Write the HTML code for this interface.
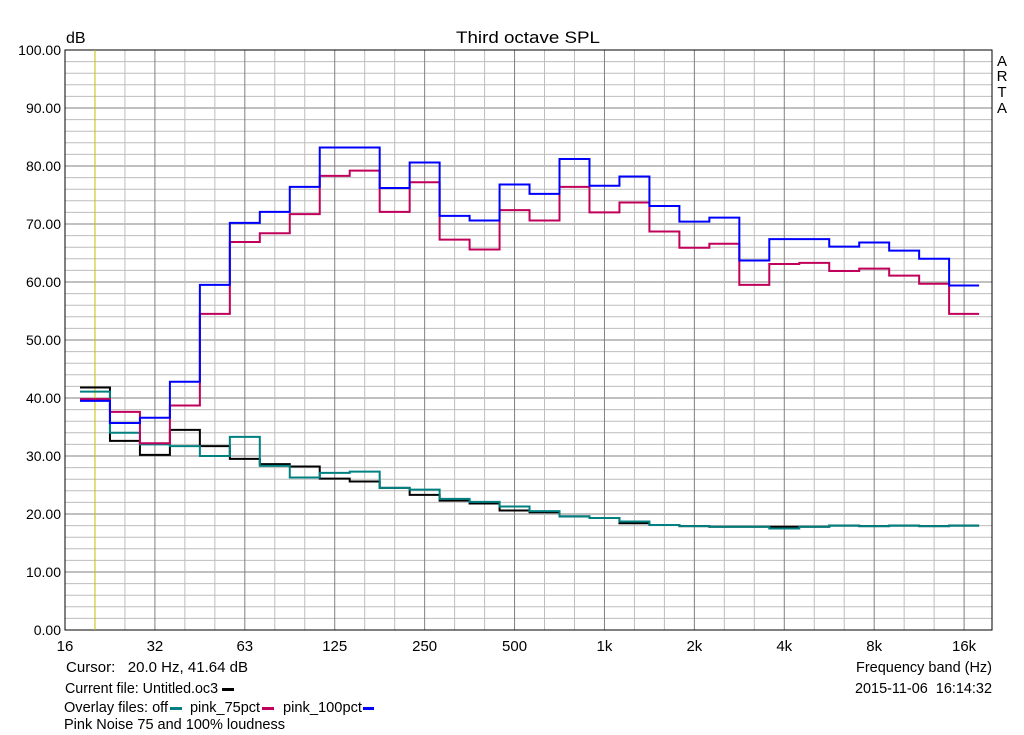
<!DOCTYPE html>
<html><head><meta charset="utf-8"><style>
html,body{margin:0;padding:0;background:#fff;}
svg{display:block;font-family:"Liberation Sans",Arial,sans-serif;}
</style></head><body>
<svg id="chart" width="1024" height="735">
<rect x="0" y="0" width="1024" height="735" fill="#fff"/>
<g id="grid"></g>
<g id="series"></g>
<text x="456" y="43" font-size="17" textLength="144" lengthAdjust="spacingAndGlyphs">Third octave SPL</text>
<text x="66" y="43" font-size="16">dB</text>
<g font-size="15" text-anchor="middle">
<text x="1002" y="66">A</text><text x="1002" y="81">R</text><text x="1002" y="97">T</text><text x="1002" y="113">A</text></g>
<g id="yticks" font-size="14" text-anchor="end"></g>
<g id="xticks" font-size="15" text-anchor="middle"></g>
<g font-size="15">
<text x="66" y="672" textLength="182" lengthAdjust="spacingAndGlyphs">Cursor:&#160;&#160;&#160;20.0 Hz, 41.64 dB</text>
<text x="856" y="672" textLength="136" lengthAdjust="spacingAndGlyphs">Frequency band (Hz)</text>
<text x="65" y="693" textLength="153" lengthAdjust="spacingAndGlyphs">Current file: Untitled.oc3</text>
<rect x="222" y="688" width="12" height="3" fill="#000"/>
<text x="855" y="693" textLength="137" lengthAdjust="spacingAndGlyphs">2015-11-06&#160;&#160;16:14:32</text>
<text x="64" y="712" textLength="104" lengthAdjust="spacingAndGlyphs">Overlay files: off</text>
<rect x="170" y="707" width="12" height="3" fill="#008080"/>
<text x="190" y="712" textLength="70" lengthAdjust="spacingAndGlyphs">pink_75pct</text>
<rect x="262" y="707" width="12" height="3" fill="#c0005a"/>
<text x="283" y="712" textLength="79" lengthAdjust="spacingAndGlyphs">pink_100pct</text>
<rect x="363" y="707" width="11" height="3" fill="#0000ff"/>
<text x="64" y="729" textLength="221" lengthAdjust="spacingAndGlyphs">Pink Noise 75 and 100% loudness</text>
</g>
</svg>
<script>
const bands=["20","25","31.5","40","50","63","80","100","125","160","200","250","315","400","500","630","800","1k","1.25k","1.6k","2k","2.5k","3.15k","4k","5k","6.3k","8k","10k","12.5k","16k"];
const pink100=[39.5,35.7,36.6,42.8,59.5,70.2,72.1,76.4,83.2,83.2,76.2,80.6,71.4,70.6,76.8,75.2,81.2,76.6,78.2,73.1,70.4,71.1,63.7,67.4,67.4,66.1,66.8,65.4,64.0,59.4];
const pink75=[39.8,37.6,32.2,38.7,54.5,66.9,68.4,71.7,78.3,79.2,72.1,77.2,67.3,65.6,72.4,70.6,76.4,72.0,73.7,68.7,65.9,66.6,59.5,63.1,63.3,61.9,62.3,61.1,59.7,54.5];
const offData=[41.1,34.0,32.0,31.7,30.0,33.3,28.3,26.3,27.1,27.3,24.5,24.2,22.6,22.1,21.3,20.5,19.6,19.3,18.7,18.1,17.9,17.8,17.8,17.5,17.8,18.0,17.9,18.0,17.9,18.0];
const current=[41.8,32.6,30.2,34.5,31.7,29.5,28.6,28.2,26.1,25.6,24.5,23.3,22.3,21.8,20.6,20.3,19.6,19.3,18.4,18.1,17.9,17.8,17.8,17.8,17.8,18.0,17.9,18.0,17.9,18.0];
const yTicks=[0,10,20,30,40,50,60,70,80,90,100];
const xTickLabels=["16","32","63","125","250","500","1k","2k","4k","8k","16k"];
const X0=65,X1=992,Y0=630,Y1=50,THIRD=29.97;
const NS="http://www.w3.org/2000/svg";
function xIdx(i){return X0+THIRD*(i+1);}
function y(v){return Y0-(v/100)*(Y0-Y1);}
function mk(tag,attrs,parent){const e=document.createElementNS(NS,tag);for(const k in attrs)e.setAttribute(k,attrs[k]);parent.appendChild(e);return e;}
const grid=document.getElementById('grid');
for(let v=0;v<=100;v+=2){
 const l=mk('line',{x1:X0,x2:X1,y1:y(v),y2:y(v),stroke:v%10===0?'#808080':'#bdbdbd','stroke-width':1},grid);
 
 
}
for(let i=-1;xIdx(i)<X1;i++){
 const major=((i+1)%3===0);
 const l=mk('line',{x1:xIdx(i),x2:xIdx(i),y1:Y1,y2:Y0,stroke:major?'#808080':'#bdbdbd','stroke-width':1},grid);
 
 
}
const fr=mk('rect',{x:X0,y:Y1,width:X1-X0,height:Y0-Y1,fill:'none',stroke:'#000','stroke-width':1},grid);


const cur=mk('line',{x1:xIdx(0),x2:xIdx(0),y1:Y1,y2:Y0,stroke:'#c8c000','stroke-width':1},grid);


const yt=document.getElementById('yticks');
yTicks.forEach(v=>{const t=mk('text',{x:61,y:y(v)+5},yt);t.textContent=v.toFixed(2);
 
 });
const xt=document.getElementById('xticks');
xTickLabels.forEach((s,k)=>{const t=mk('text',{x:xIdx(k*3-1),y:651},xt);t.textContent=s;
 
 });
const sg=document.getElementById('series');
function step(data,color,name){
 let d='';
 data.forEach((v,i)=>{const a=xIdx(i)-THIRD/2,b=xIdx(i)+THIRD/2;d+=(i===0?'M':'L')+a+','+y(v)+'L'+b+','+y(v);});
 const p=mk('path',{d:d,fill:'none',stroke:color,'stroke-width':2},sg);
 
 
}
step(current,'#000000','series-current');
step(offData,'#008080','series-off');
step(pink75,'#c0005a','series-pink-75');
step(pink100,'#0000ff','series-pink-100');
</script>
</body></html>
